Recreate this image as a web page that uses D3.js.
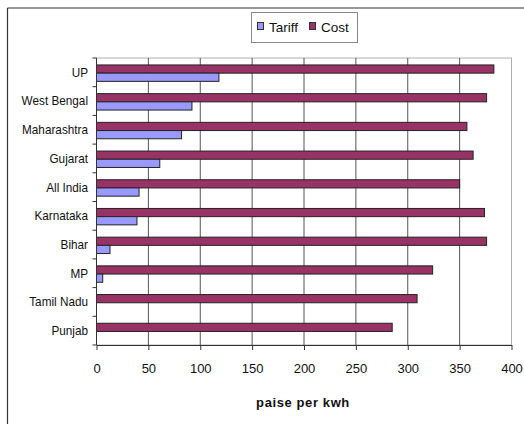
<!DOCTYPE html>
<html>
<head>
<meta charset="utf-8">
<script src="https://cdn.jsdelivr.net/npm/d3@7"></script>
<style>
  html, body { margin: 0; padding: 0; background: #fff; }
  svg { display: block; }
  text { font-family: "Liberation Sans", Arial, sans-serif; fill: #111; }
</style>
</head>
<body>
<svg id="chart" width="524" height="424"></svg>
<script>
// Per-state tariff and cost of supply, paise per kWh
const states = ["UP", "West Bengal", "Maharashtra", "Gujarat", "All India",
                "Karnataka", "Bihar", "MP", "Tamil Nadu", "Punjab"];
const tariff = [118, 92, 82, 61, 41, 39, 13, 6, 0, 0];
const cost   = [383, 376, 357, 363, 350, 374, 376, 324, 309, 285];
const xTicks = [0, 50, 100, 150, 200, 250, 300, 350, 400];
const seriesNames = ["Tariff", "Cost"];
const seriesColors = { Tariff: "#9999ff", Cost: "#993366" };

const svg = d3.select("#chart");
const plot = { left: 96.5, right: 511.5, top: 58, bottom: 345 };

// outer frame (top and left edges)
svg.append("line").attr("x1", 7.5).attr("x2", 524).attr("y1", 8).attr("y2", 8)
  .attr("stroke", "#333").attr("stroke-width", 1.2);
svg.append("line").attr("x1", 7.5).attr("x2", 7.5).attr("y1", 8).attr("y2", 424)
  .attr("stroke", "#333").attr("stroke-width", 1.2);

const x = d3.scaleLinear().domain([0, 400]).range([plot.left, plot.right]);
const y = d3.scaleBand().domain(states).range([plot.top, plot.bottom]).paddingInner(0).paddingOuter(0);

// plot area border
svg.append("rect")
  .attr("x", plot.left).attr("y", plot.top)
  .attr("width", plot.right - plot.left).attr("height", plot.bottom - plot.top)
  .attr("fill", "#fff").attr("stroke", "#b0b0b0").attr("stroke-width", 1);

// vertical gridlines
svg.append("g").selectAll("line")
  .data(xTicks.filter(t => t > 0 && t < 400))
  .join("line")
  .attr("x1", d => x(d)).attr("x2", d => x(d))
  .attr("y1", plot.top).attr("y2", plot.bottom)
  .attr("stroke", "#555").attr("stroke-width", 1);

// bars: Cost on top, Tariff beneath, within each state band
const groupH = y.bandwidth() * 2 / 3.5;
const barH = groupH / 2;
const rows = states.map((s, i) => ({ state: s, Tariff: tariff[i], Cost: cost[i] }));

const g = svg.append("g");
rows.forEach(r => {
  const y0 = y(r.state) + (y.bandwidth() - groupH) / 2 + 0.8;
  g.append("rect")
    .attr("x", x(0)).attr("y", y0)
    .attr("width", x(r.Cost) - x(0)).attr("height", barH)
    .attr("fill", seriesColors.Cost).attr("stroke", "#222").attr("stroke-width", 1);
  if (r.Tariff > 0) {
    g.append("rect")
      .attr("x", x(0)).attr("y", y0 + barH)
      .attr("width", x(r.Tariff) - x(0)).attr("height", barH)
      .attr("fill", seriesColors.Tariff).attr("stroke", "#222").attr("stroke-width", 1);
  }
});

// x axis
const xAxis = svg.append("g")
  .attr("transform", `translate(0,${plot.bottom})`)
  .call(d3.axisBottom(x).tickValues(xTicks).tickSize(5).tickPadding(14).tickSizeOuter(0));
xAxis.select(".domain").attr("stroke", "#333");
xAxis.selectAll(".tick line").attr("stroke", "#333");
xAxis.selectAll("text").attr("font-size", 13).attr("fill", "#111")
  .attr("font-family", "'Liberation Sans', Arial, sans-serif");

// y axis: ticks mark the boundaries between states
svg.append("line").attr("x1", plot.left).attr("x2", plot.left)
  .attr("y1", plot.top).attr("y2", plot.bottom).attr("stroke", "#333");
const boundaries = states.map(s => y(s)).concat([plot.bottom]);
svg.append("g").selectAll("line").data(boundaries).join("line")
  .attr("x1", plot.left - 4).attr("x2", plot.left)
  .attr("y1", d => d).attr("y2", d => d)
  .attr("stroke", "#333");
svg.append("g").selectAll("text").data(states).join("text")
  .attr("transform", d => `translate(${plot.left - 8.5},${y(d) + y.bandwidth() / 2}) scale(0.94,1)`)
  .attr("dy", "0.35em")
  .attr("text-anchor", "end")
  .attr("font-size", 12.5)
  .text(d => d);

// axis title
svg.append("text")
  .attr("x", 303).attr("y", 407)
  .attr("text-anchor", "middle")
  .attr("font-size", 13).attr("font-weight", "bold")
  .attr("letter-spacing", 0.6)
  .text("paise per kwh");

// legend
const lg = svg.append("g");
lg.append("rect").attr("x", 251.5).attr("y", 12.5).attr("width", 106).attr("height", 30)
  .attr("fill", "#fff").attr("stroke", "#888");
const legendItems = [
  { name: seriesNames[0], sx: 257, tx: 269 },
  { name: seriesNames[1], sx: 309, tx: 321 }
];
legendItems.forEach(it => {
  lg.append("rect").attr("x", it.sx + 0.5).attr("y", 22.5).attr("width", 6).attr("height", 7)
    .attr("fill", seriesColors[it.name]).attr("stroke", "#333");
  lg.append("text").attr("x", it.tx).attr("y", 32).attr("font-size", 13.5).text(it.name);
});
</script>
</body>
</html>
